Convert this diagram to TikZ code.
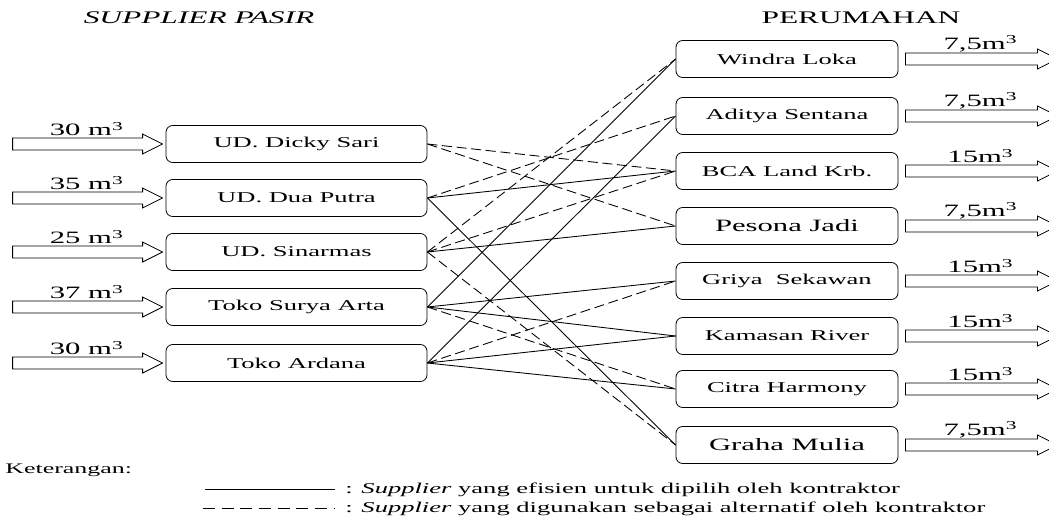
\documentclass[tikz,border=0pt]{standalone}
\usepackage{fontspec}
\setmainfont{Liberation Serif}[FakeStretch=1.77]
\usepackage{tikz}
\usetikzlibrary{calc}

\tikzset{
    box/.style={draw, line width=0.6pt, rounded corners=5pt, inner sep=0pt, minimum height=27.75pt, font=\fontsize{11.25}{13}\selectfont},
    supbox/.style={box, minimum width=195.75pt},
    rumbox/.style={box, minimum width=166.5pt},
    rumbig/.style={rumbox, font=\fontsize{13}{15}\selectfont},
    flow/.style={draw, line width=0.6pt, fill=white},
    volume/.style={font=\fontsize{13}{15}\selectfont, inner sep=0pt},
    pilih/.style={line width=0.65pt},
    alt/.style={line width=0.65pt, dash pattern=on 7.5pt off 3.5pt},
    altket/.style={line width=0.65pt, dash pattern=on 9pt off 5pt},
}

\begin{document}
\begin{tikzpicture}[x=0.75pt, y=-0.75pt]
    \path[use as bounding box, clip] (0,0) rectangle (1049,517);

    % Titles
    \node[font=\fontsize{13.3}{15}\selectfont\itshape] (judulsup) at (199,18) {SUPPLIER PASIR};
    \node[font=\fontsize{13.3}{15}\selectfont] (judulrum) at (861,18) {PERUMAHAN};

    % Suppliers with incoming sand
    \foreach \i/\y/\nama/\vol in {1/144/UD. Dicky Sari/30, 2/198/UD. Dua Putra/35, 3/252/UD. Sinarmas/25, 4/307/Toko Surya Arta/37, 5/363/Toko Ardana/30} {
        \node[supbox] (sup\i) at (296.5,\y) {\nama};
        \draw[flow, shift={(sup\i.west)}] (-153,-6) -- (-23,-6) -- (-23,-10) -- (-3,0) -- (-23,10) -- (-23,6) -- (-153,6) -- cycle;
        \node[volume] (masuk\i) at ($(sup\i.west)+(-79,-15)$) {\vol\ m\textsuperscript{3}};
    }

    % Housing projects with demand
    \foreach \i/\y/\nama/\vol/\gaya in {1/59/Windra Loka/{7,5}/rumbox, 2/116/Aditya Sentana/{7,5}/rumbox, 3/171/BCA Land Krb./15/rumbox, 4/226/Pesona Jadi/{7,5}/rumbig, 5/281/Griya\ \ Sekawan/15/rumbox, 6/336/Kamasan River/15/rumbox, 7/389/Citra Harmony/15/rumbox, 8/445/Graha Mulia/{7,5}/rumbig} {
        \node[\gaya] (rum\i) at (787,\y) {\nama};
        \draw[flow, shift={(rum\i.east)}] (7,-6) -- (139,-6) -- (139,-10) -- (159,0) -- (139,10) -- (139,6) -- (7,6) -- cycle;
        \node[volume] (keluar\i) at ($(rum\i.east)+(82,-15)$) {\vol m\textsuperscript{3}};
    }

    % Efficient suppliers
    \foreach \s/\r in {2/3, 2/8, 3/4, 4/1, 4/5, 4/6, 5/2, 5/6, 5/7}
        \draw[pilih] (sup\s.east) -- (rum\r.west);

    % Alternative suppliers
    \foreach \s/\r in {1/3, 1/4, 2/2, 3/1, 3/3, 3/8, 4/7, 5/5}
        \draw[alt] (sup\s.east) -- (rum\r.west);

    % Legend
    \node[anchor=base west, font=\fontsize{11}{13}\selectfont, inner sep=0pt] (ket) at (5,473) {Keterangan:};
    \coordinate (garis1a) at (205,489);
    \coordinate (garis1b) at (335,489);
    \coordinate (garis2a) at (203,508);
    \coordinate (garis2b) at (335,508);
    \draw[pilih] (garis1a) -- (garis1b);
    \draw[altket] (garis2a) -- (garis2b);
    \node[anchor=base west, font=\fontsize{11.25}{13}\selectfont, inner sep=0pt] (ket1) at (345,493) {: \textit{Supplier} yang efisien untuk dipilih oleh kontraktor};
    \node[anchor=base west, font=\fontsize{11.25}{13}\selectfont, inner sep=0pt] (ket2) at (345,512) {: \textit{Supplier} yang digunakan sebagai alternatif oleh kontraktor};

\end{tikzpicture}
\end{document}
